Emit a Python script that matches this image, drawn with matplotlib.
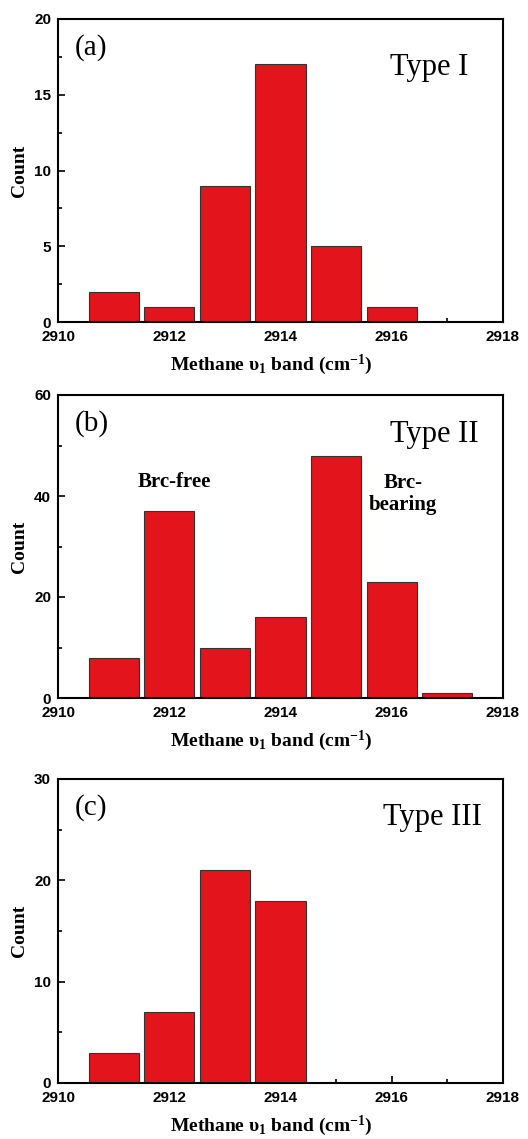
import matplotlib
matplotlib.use("Agg")
import matplotlib.pyplot as plt
from matplotlib.ticker import MultipleLocator

plt.rcParams['mathtext.fontset'] = 'custom'
plt.rcParams['mathtext.rm'] = 'Liberation Serif:bold'
plt.rcParams['mathtext.bf'] = 'Liberation Serif:bold'
plt.rcParams['mathtext.it'] = 'Liberation Serif:bold'
plt.rcParams['mathtext.default'] = 'bf'

# Data
pos_a = [2911, 2912, 2913, 2914, 2915, 2916]
cnt_a = [2, 1, 9, 17, 5, 1]
pos_b = [2911, 2912, 2913, 2914, 2915, 2916, 2917]
cnt_b = [8, 37, 10, 16, 48, 23, 1]
pos_c = [2911, 2912, 2913, 2914]
cnt_c = [3, 7, 21, 18]

panels = [
    dict(pos=pos_a, cnt=cnt_a, ymax=20, major=5, minor=2.5, tag="(a)", title="Type I",
         rect=[58/528, (1139-322)/1139, 445/528, 303/1139], tx=0.746, ty=0.84),
    dict(pos=pos_b, cnt=cnt_b, ymax=60, major=20, minor=10, tag="(b)", title="Type II",
         rect=[58/528, (1139-698)/1139, 445/528, 303/1139], tx=0.746, ty=0.868),
    dict(pos=pos_c, cnt=cnt_c, ymax=30, major=10, minor=5, tag="(c)", title="Type III",
         rect=[58/528, (1139-1083)/1139, 445/528, 304/1139], tx=0.73, ty=0.872),
]

fig = plt.figure(figsize=(5.28, 11.39), dpi=100)
serif = 'Liberation Serif'
sans = 'Liberation Sans'
xlabel = r"Methane υ$_1$ band (cm$^{-1}$)"

axes = []
for p in panels:
    ax = fig.add_axes(p['rect'])
    ax.bar(p['pos'], p['cnt'], width=0.9, color='#E3141B', edgecolor='#333333', linewidth=0.8, zorder=2)
    ax.set_xlim(2910, 2918)
    ax.set_ylim(0, p['ymax'])
    ax.xaxis.set_major_locator(MultipleLocator(2))
    ax.xaxis.set_minor_locator(MultipleLocator(1))
    ax.yaxis.set_major_locator(MultipleLocator(p['major']))
    ax.yaxis.set_minor_locator(MultipleLocator(p['minor']))
    ax.tick_params(which='both', direction='in', top=False, right=False, width=1.2)
    ax.tick_params(which='major', length=5)
    ax.tick_params(which='minor', length=3)
    ax.tick_params(axis='x', which='major', pad=6)
    ax.tick_params(axis='y', which='major', pad=5)
    for lab in ax.get_xticklabels() + ax.get_yticklabels():
        lab.set_fontfamily(sans)
        lab.set_fontweight('bold')
        lab.set_fontsize(11)
    for s in ax.spines.values():
        s.set_linewidth(1.5)
        s.set_zorder(3)
    ax.set_ylabel("Count", fontfamily=serif, fontweight='bold', fontsize=14)
    ax.yaxis.set_label_coords(-0.068, 0.5)
    ax.set_xlabel(xlabel, fontfamily=serif, fontweight='bold', fontsize=14)
    ax.xaxis.set_label_coords(0.48, -0.1)
    ax.text(0.038, 0.905, p['tag'], transform=ax.transAxes, fontfamily=serif, fontsize=21,
            ha='left', va='center')
    ax.text(p['tx'], p['ty'], p['title'], transform=ax.transAxes, fontfamily=serif, fontsize=22,
            ha='left', va='center')
    axes.append(ax)

axb = axes[1]
axb.text(2912.1, 42.8, "Brc-free", fontfamily=serif, fontweight='bold', fontsize=15,
         ha='center', va='center')
axb.text(2916.2, 40.4, "Brc-\nbearing", fontfamily=serif, fontweight='bold', fontsize=15,
         ha='center', va='center', linespacing=1.15)

fig.savefig("out.png", dpi=100)
